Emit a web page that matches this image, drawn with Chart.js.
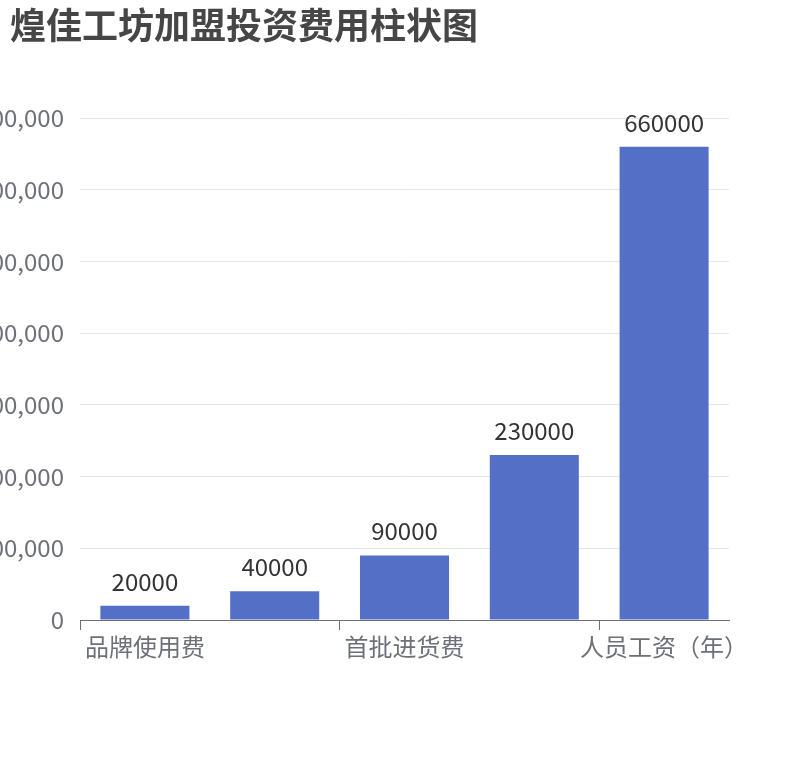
<!DOCTYPE html>
<html>
<head>
<meta charset="utf-8">
<script src="https://cdn.jsdelivr.net/npm/chart.js@4/dist/chart.umd.min.js"></script>
<style>
  body { margin: 0; background: #fff; }
  #wrap { width: 810px; height: 760px; overflow: hidden; }
</style>
</head>
<body>
<div id="wrap"><canvas id="grafBarras" width="810" height="760"></canvas></div>
<script>
// dados do grafico
var categorias = ["品牌使用费", "加盟保证金", "首批进货费", "装修设备费", "人员工资（年）"];
var valores = [20000, 40000, 90000, 230000, 660000];
var yTicks = [0, 100000, 200000, 300000, 400000, 500000, 600000, 700000];

var fonte = "'Noto Sans CJK SC', 'Noto Sans', sans-serif";

// rotulos em cima das barras
var rotulos = {
  id: 'rotulos',
  afterLayout: function(chart) {
    // deixa os rotulos do eixo y sairem pela borda esquerda (cortados)
    chart.scales.y.left = 0;
  },
  afterDatasetsDraw: function(chart) {
    var ctx = chart.ctx;
    var meta = chart.getDatasetMeta(0);
    ctx.save();
    ctx.font = "24px " + fonte;
    ctx.fillStyle = "#333";
    ctx.textAlign = "center";
    ctx.textBaseline = "alphabetic";
    meta.data.forEach(function(bar, i) {
      ctx.fillText(String(valores[i]), bar.x, bar.y - 15);
    });
    ctx.restore();
  }
};

var barras = document.getElementById("grafBarras").getContext("2d");

var grafico = new Chart(barras, {
  type: 'bar',
  data: {
    labels: categorias,
    datasets: [{
      label: '费用',
      data: valores,
      backgroundColor: '#5470c6',
      categoryPercentage: 1,
      barPercentage: 0.686
    }]
  },
  options: {
    responsive: false,
    animation: false,
    layout: { padding: { left: 10, right: 81, top: 0, bottom: 0 } },
    plugins: {
      legend: { display: false },
      tooltip: { enabled: false },
      title: {
        display: true,
        text: '煌佳工坊加盟投资费用柱状图',
        align: 'start',
        color: '#464646',
        font: { family: fonte, size: 36, weight: 'bold' },
        padding: { top: 4, bottom: 70.8 }
      }
    },
    scales: {
      x: {
        offset: true,
        afterFit: function(scale) { scale.height = 140; },
        border: { display: true, color: '#6E7079', width: 1 },
        grid: {
          offset: true,
          drawOnChartArea: false,
          drawTicks: true,
          tickLength: 10,
          color: function(c) { return (c.index % 2 === 0 || c.index === categorias.length) ? '#6E7079' : 'rgba(0,0,0,0)'; }
        },
        ticks: {
          autoSkip: false,
          maxRotation: 0,
          padding: 2,
          color: '#6E7079',
          font: { family: fonte, size: 24 },
          callback: function(v, i) { return i % 2 === 0 ? categorias[i] : ''; }
        }
      },
      y: {
        min: yTicks[0],
        max: yTicks[yTicks.length - 1],
        afterFit: function(scale) { scale.width = 70; },
        afterBuildTicks: function(scale) {
          scale.ticks = yTicks.map(function(v) { return { value: v }; });
        },
        border: { display: false },
        grid: { color: '#E0E6F1', drawTicks: false },
        ticks: {
          padding: 16,
          color: '#6E7079',
          font: { family: fonte, size: 24 },
          callback: function(v) { return v.toLocaleString('en-US'); }
        }
      }
    }
  },
  plugins: [rotulos]
});
</script>
</body>
</html>
